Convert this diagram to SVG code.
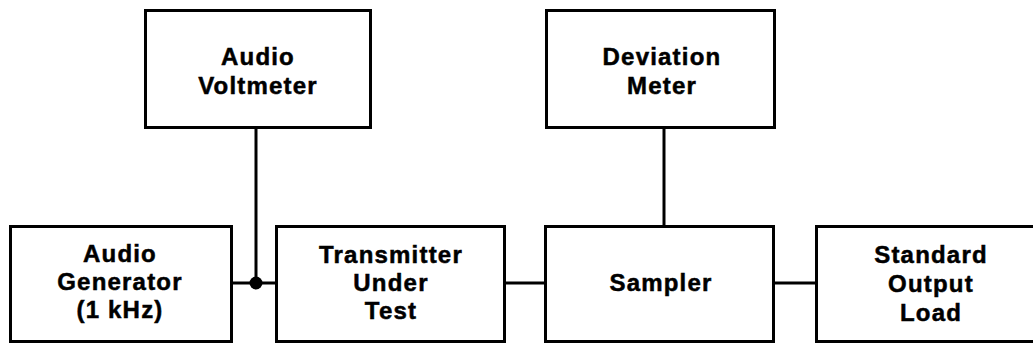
<svg xmlns="http://www.w3.org/2000/svg" width="1033" height="346" viewBox="0 0 1033 346">
  <style>
    .box { fill: #fff; stroke: #000; stroke-width: 3; }
    .wire { fill: none; stroke: #000; stroke-width: 3; }
    .lbl { font-family: "Liberation Sans", Arial, Helvetica, sans-serif; font-weight: bold; font-size: 24px; letter-spacing: 1.2px; text-anchor: middle; fill: #000; stroke: #000; stroke-width: 0.5px; }
  </style>
  <rect width="1033" height="346" fill="#fff"/>

  <g id="connectors">
    <path class="wire" d="M256 127 V283"/>
    <path class="wire" d="M232 283 H277"/>
    <circle cx="256" cy="283" r="6.5" fill="#000"/>
    <path class="wire" d="M505 283 H546"/>
    <path class="wire" d="M664 127 V227"/>
    <path class="wire" d="M774 283 H817"/>
  </g>

  <g id="audio-voltmeter">
    <rect class="box" x="145.5" y="10.5" width="225" height="117"/>
    <text class="lbl" x="258" y="65">Audio</text>
    <text class="lbl" x="258" y="94">Voltmeter</text>
  </g>

  <g id="deviation-meter">
    <rect class="box" x="546.5" y="10.5" width="228" height="117"/>
    <text class="lbl" x="662" y="65">Deviation</text>
    <text class="lbl" x="662" y="94">Meter</text>
  </g>

  <g id="audio-generator">
    <rect class="box" x="10.5" y="226.5" width="221" height="115"/>
    <text class="lbl" x="120" y="262">Audio</text>
    <text class="lbl" x="120" y="290">Generator</text>
    <text class="lbl" x="120" y="318">(1 kHz)</text>
  </g>

  <g id="transmitter">
    <rect class="box" x="276.5" y="226.5" width="228" height="115"/>
    <text class="lbl" x="391" y="263">Transmitter</text>
    <text class="lbl" x="391" y="291">Under</text>
    <text class="lbl" x="391" y="319">Test</text>
  </g>

  <g id="sampler">
    <rect class="box" x="545.5" y="226.5" width="228" height="115"/>
    <text class="lbl" x="661" y="291">Sampler</text>
  </g>

  <g id="standard-output-load">
    <rect class="box" x="816.5" y="226.5" width="230" height="115"/>
    <text class="lbl" x="931" y="263">Standard</text>
    <text class="lbl" x="931" y="292">Output</text>
    <text class="lbl" x="931" y="321">Load</text>
  </g>
</svg>
